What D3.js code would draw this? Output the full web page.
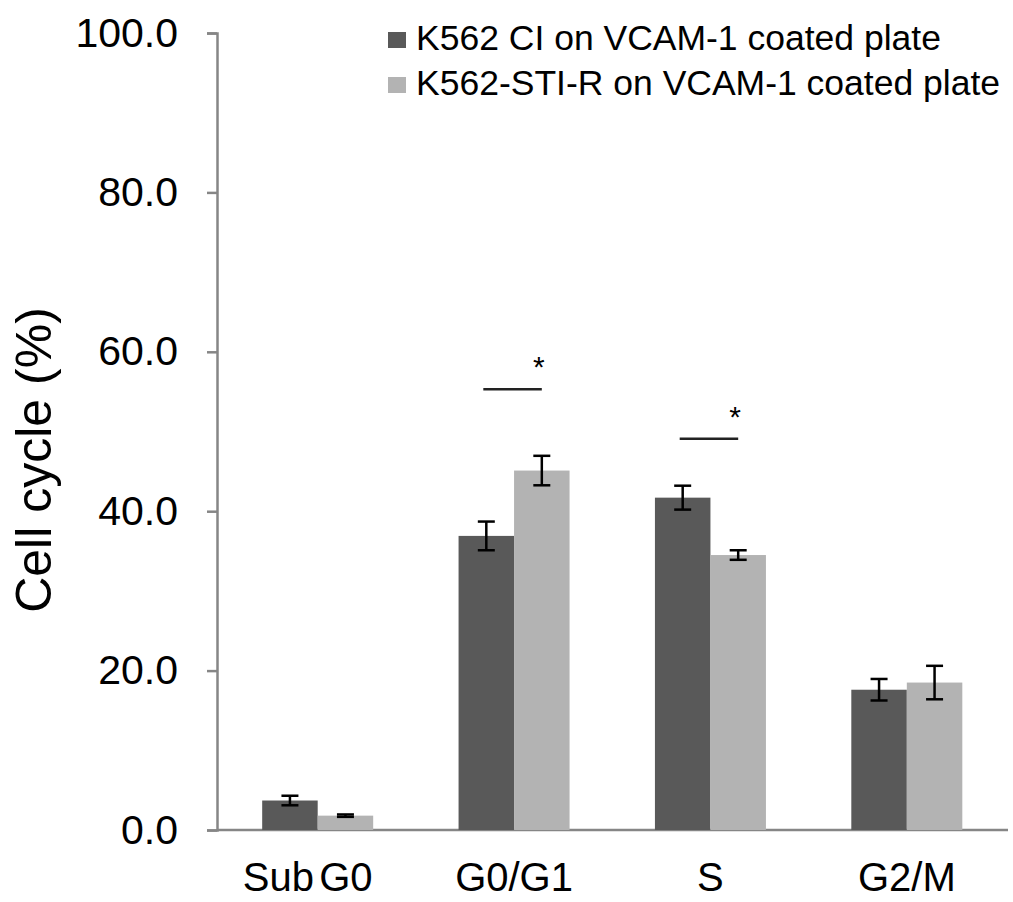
<!DOCTYPE html>
<html>
<head>
<meta charset="utf-8">
<script src="https://cdn.jsdelivr.net/npm/d3@7"></script>
<style>
  body { margin: 0; background: #fff; }
  svg { font-family: "Liberation Sans", Arial, sans-serif; }
</style>
</head>
<body>
<svg id="chart" width="1013" height="902"></svg>
<script>
// categories and series
var categories = ["Sub G0", "G0/G1", "S", "G2/M"];
var seriesNames = ["K562 CI on VCAM-1 coated plate", "K562-STI-R on VCAM-1 coated plate"];
var ciValues = [3.7, 36.9, 41.7, 17.6];
var ciErrors = [0.6, 1.8, 1.5, 1.35];
var stiValues = [1.8, 45.1, 34.5, 18.5];
var stiErrors = [0.15, 1.85, 0.6, 2.1];
var yTicks = [0, 20, 40, 60, 80, 100];
// significance brackets: category and height of the line
var sigCategories = ["G0/G1", "S"];
var sigLevels = [55.3, 49.1];

var colors = ["#595959", "#b3b3b3"];

var svg = d3.select("#chart");

var y = d3.scaleLinear().domain([0, 100]).range([830, 33]);
var x = d3.scaleBand().domain(categories).range([219.5, 1005]);
var bw = x.bandwidth();
var barW = 55.5;
var xs = d3.scaleBand().domain([0, 1]).range([bw / 2 - barW, bw / 2 + barW]);

// y axis
var yAxis = svg.append("g")
  .attr("transform", "translate(217,0)")
  .call(d3.axisLeft(y).tickValues(yTicks).tickSize(10).tickPadding(29)
    .tickFormat(d3.format(".1f")));
yAxis.select(".domain").attr("stroke", "#868686").attr("stroke-width", 2.5);
yAxis.selectAll(".tick line").attr("stroke", "#868686").attr("stroke-width", 2.5);
yAxis.selectAll(".tick text")
  .attr("fill", "#000")
  .style("font-size", "41px")
  .style("font-family", "Liberation Sans, Arial, sans-serif");

// x axis line
svg.append("line")
  .attr("x1", 217).attr("x2", 1008)
  .attr("y1", y(0)).attr("y2", y(0))
  .attr("stroke", "#868686").attr("stroke-width", 2.5);

// category labels
svg.selectAll(".xlabel")
  .data(categories)
  .enter().append("text")
  .attr("class", "xlabel")
  .attr("x", function(d, i) { return x(d) + bw / 2 - (i === 0 ? 10 : 0); })
  .attr("y", 891)
  .attr("text-anchor", "middle")
  .style("font-size", "40px")
  .style("word-spacing", "-6px")
  .text(function(d) { return d; });

// y title
svg.append("text")
  .attr("transform", "translate(51,460) rotate(-90)")
  .attr("text-anchor", "middle")
  .style("font-size", "50px")
  .text("Cell cycle (%)");

var sets = [
  { values: ciValues, errors: ciErrors },
  { values: stiValues, errors: stiErrors }
];

sets.forEach(function(set, s) {
  var g = svg.append("g");
  var rows = categories.map(function(c, i) {
    return { cat: c, v: set.values[i], e: set.errors[i] };
  });

  g.selectAll("rect")
    .data(rows)
    .enter().append("rect")
    .attr("x", function(d) { return x(d.cat) + xs(s); })
    .attr("width", xs.bandwidth())
    .attr("y", function(d) { return y(d.v); })
    .attr("height", function(d) { return y(0) - y(d.v); })
    .attr("fill", colors[s]);

  var cap = 8.5;
  var err = g.selectAll(".err")
    .data(rows)
    .enter().append("g")
    .attr("class", "err")
    .attr("stroke", "#000")
    .attr("stroke-width", 2.5);
  err.append("line")
    .attr("x1", function(d) { return x(d.cat) + xs(s) + barW / 2; })
    .attr("x2", function(d) { return x(d.cat) + xs(s) + barW / 2; })
    .attr("y1", function(d) { return y(d.v + d.e); })
    .attr("y2", function(d) { return y(d.v - d.e); });
  [1, -1].forEach(function(sign) {
    err.append("line")
      .attr("x1", function(d) { return x(d.cat) + xs(s) + barW / 2 - cap; })
      .attr("x2", function(d) { return x(d.cat) + xs(s) + barW / 2 + cap; })
      .attr("y1", function(d) { return y(d.v + sign * d.e); })
      .attr("y2", function(d) { return y(d.v + sign * d.e); });
  });
});

// significance lines and stars
sigCategories.forEach(function(c, i) {
  var x0 = x(c) + xs(0) + barW / 2 - 3;
  var x1 = x(c) + xs(1) + barW / 2;
  svg.append("line")
    .attr("x1", x0).attr("x2", x1)
    .attr("y1", y(sigLevels[i])).attr("y2", y(sigLevels[i]))
    .attr("stroke", "#222").attr("stroke-width", 2.5);
  svg.append("text")
    .attr("x", x1 - 3)
    .attr("y", y(sigLevels[i]) - 12)
    .attr("text-anchor", "middle")
    .style("font-size", "30px")
    .text("*");
});

// legend
var legend = svg.selectAll(".legend")
  .data(seriesNames)
  .enter().append("g")
  .attr("class", "legend")
  .attr("transform", function(d, i) { return "translate(388," + (50 + i * 45) + ")"; });
legend.append("rect")
  .attr("x", 0).attr("y", -18)
  .attr("width", 18).attr("height", 16)
  .attr("fill", function(d, i) { return colors[i]; });
legend.append("text")
  .attr("x", 28).attr("y", 0)
  .style("font-size", "35.5px")
  .text(function(d) { return d; });
</script>
</body>
</html>
